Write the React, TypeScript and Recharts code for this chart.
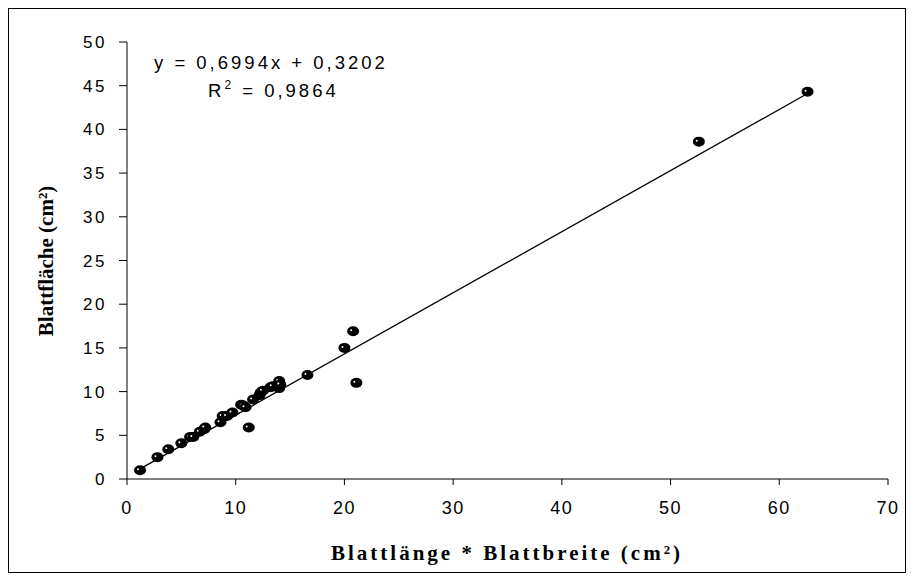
import { ScatterChart, Scatter, XAxis, YAxis, ReferenceLine, Customized } from 'recharts'

// Blattlänge * Blattbreite (cm²)
const LW = [
  1.2, 2.8, 3.8, 5.0, 5.8, 6.1, 6.7, 7.1, 7.2, 8.6, 8.8, 9.2, 9.7, 10.5, 10.7,
  10.9, 11.2, 11.6, 12.2, 12.3, 12.5, 13.2, 13.4, 14.0, 14.0, 14.1, 16.6, 20.0,
  20.8, 21.1, 52.6, 62.6,
]
// Blattfläche (cm²)
const AREA = [
  1.0, 2.5, 3.4, 4.1, 4.8, 4.8, 5.4, 5.7, 5.9, 6.5, 7.2, 7.2, 7.6, 8.5, 8.4,
  8.2, 5.9, 9.1, 9.6, 9.9, 10.1, 10.5, 10.6, 11.2, 10.4, 10.8, 11.9, 15.0,
  16.9, 11.0, 38.6, 44.3,
]

const X_TICKS = [0, 10, 20, 30, 40, 50, 60, 70]
const Y_TICKS = [0, 5, 10, 15, 20, 25, 30, 35, 40, 45, 50]

const SLOPE = 0.6994
const INTERCEPT = 0.3202
const EQUATION = 'y = 0,6994x + 0,3202'
const R2 = '0,9864'

const data = LW.map((x, i) => ({ x, y: AREA[i] }))
const xMin = Math.min(...LW)
const xMax = Math.max(...LW)

const SANS = "Arial, 'Liberation Sans', sans-serif"
const SERIF = "'Times New Roman', 'Liberation Serif', serif"

const Dot = ({ cx, cy }: { cx?: number; cy?: number }) => {
  if (cx == null || cy == null) return null
  return (
    <g>
      <ellipse cx={cx} cy={cy} rx={6} ry={5} fill="#000" />
      <circle cx={cx - 2} cy={cy - 1} r={1} fill="#fff" />
    </g>
  )
}

const Texts = () => (
  <g>
    <text x={145} y={60} fontFamily={SANS} fontSize={18.5} letterSpacing={3} fill="#000">
      {EQUATION}
    </text>
    <text x={199} y={88} fontFamily={SANS} fontSize={18.5} letterSpacing={3} fill="#000">
      R<tspan dy={-8} fontSize={12}>2</tspan><tspan dy={8}> = {R2}</tspan>
    </text>
    <text
      x={39} y={252}
      transform="rotate(-90 39 252)"
      textAnchor="middle" dominantBaseline="middle"
      fontFamily={SERIF} fontWeight="bold" fontSize={21} fill="#000"
    >
      Blattfläche (cm²)
    </text>
    <text
      x={498} y={551}
      textAnchor="middle"
      fontFamily={SERIF} fontWeight="bold" fontSize={21} letterSpacing={3} fill="#000"
    >
      Blattlänge * Blattbreite (cm²)
    </text>
  </g>
)

export default function App() {
  const xTick = { fill: '#000', fontSize: 18, fontFamily: SANS, letterSpacing: 1.5 }
  const yTick = { fill: '#000', fontSize: 17, fontFamily: SANS, letterSpacing: 2.5 }
  return (
    <div style={{ width: 898, height: 565, border: '1px solid #000', boxSizing: 'border-box', background: '#fff' }}>
      <ScatterChart width={896} height={563} margin={{ top: 33, right: 17, left: 58, bottom: 53 }}>
        <XAxis
          type="number" dataKey="x" domain={[0, 70]} ticks={X_TICKS}
          height={40} tick={xTick} tickSize={6} tickMargin={16}
          axisLine={{ stroke: '#000' }} tickLine={{ stroke: '#000' }}
        />
        <YAxis
          type="number" dataKey="y" domain={[0, 50]} ticks={Y_TICKS}
          width={60} tick={yTick} tickSize={8} tickMargin={12}
          axisLine={{ stroke: '#000' }} tickLine={{ stroke: '#000' }}
        />
        <ReferenceLine
          segment={[
            { x: xMin, y: SLOPE * xMin + INTERCEPT },
            { x: xMax, y: SLOPE * xMax + INTERCEPT },
          ]}
          stroke="#000" strokeWidth={1.3} ifOverflow="visible"
        />
        <Scatter data={data} shape={<Dot />} isAnimationActive={false} />
        <Customized component={Texts} />
      </ScatterChart>
    </div>
  )
}
